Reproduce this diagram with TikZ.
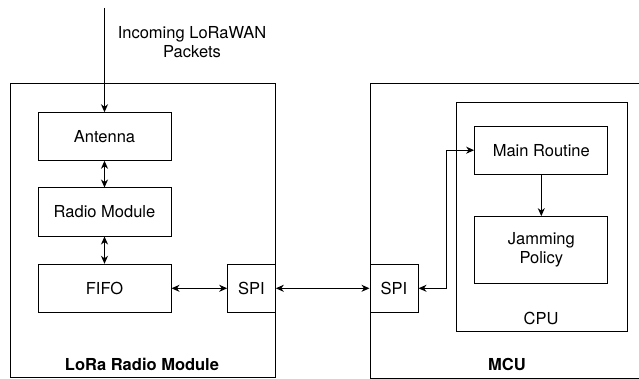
\documentclass[tikz,border=0pt]{standalone}
\usepackage{fontspec}
\setmainfont{TeX Gyre Heros}
\usetikzlibrary{arrows.meta}

\begin{document}
\begin{tikzpicture}[
  x=1pt, y=-1pt,
  every node/.style={font=\fontsize{16.5}{19.5}\selectfont},
  box/.style={draw, line width=1pt, rectangle, inner sep=0pt},
  arr/.style={line width=1pt, {Stealth[length=8pt,width=7pt,inset=2.5pt]}-{Stealth[length=8pt,width=7pt,inset=2.5pt]}},
  into/.style={line width=1pt, -{Stealth[length=8pt,width=7pt,inset=2.5pt]}}
]
  \clip (0,0) rectangle (639,379);
  \node[box, minimum width=265pt, minimum height=293pt] (lora) at (142.5,230.5) {};
  \node[box, minimum width=280pt, minimum height=294pt] (mcu) at (510,231) {};
  \node[font=\fontsize{16.5}{19.5}\selectfont\bfseries] (loralabel) at (142,364) {LoRa Radio Module};
  \node[font=\fontsize{16.5}{19.5}\selectfont\bfseries] (mculabel) at (507,364) {MCU};

  \node[box, minimum width=133pt, minimum height=47.5pt] (antenna) at (104.5,136.5) {Antenna};
  \node[box, minimum width=133pt, minimum height=48pt] (radio) at (104.5,212) {Radio Module};
  \node[box, minimum width=133pt, minimum height=48pt] (fifo) at (104.5,288.3) {FIFO};
  \node[box, minimum width=47.6pt, minimum height=48pt] (spil) at (251.5,288.3) {SPI};
  \node[box, minimum width=48pt, minimum height=48pt] (spir) at (394,288.3) {SPI};

  \node[box, minimum width=171pt, minimum height=228.3pt] (cpu) at (541.5,216.9) {};
  \node (cpulabel) at (541,318) {CPU};
  \node[box, minimum width=133.3pt, minimum height=47.7pt] (main) at (541.3,150.2) {Main Routine};
  \node[box, minimum width=133.3pt, minimum height=66.7pt, align=center] (jam) at (541.3,250) {Jamming\\Policy};

  \coordinate (src) at (104.5,8);
  \node[align=center] (incoming) at (192,42) {Incoming LoRaWAN\\Packets};

  \draw[into] (src) -- (antenna.north);
  \draw[arr] (antenna.south) -- (radio.north);
  \draw[arr] (radio.south) -- (fifo.north);
  \draw[arr] (fifo.east) -- (spil.west);
  \draw[arr] (spil.east) -- (spir.west);
  \draw[arr] (spir.east) -- ++(28.3,0) |- (main.west);
  \draw[into] (main.south) -- (jam.north);
\end{tikzpicture}
\end{document}
